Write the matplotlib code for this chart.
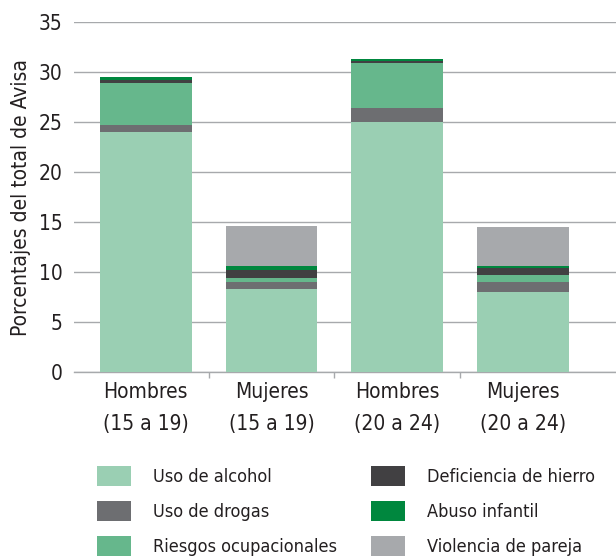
import numpy as np
import matplotlib
matplotlib.use("Agg")
import matplotlib.pyplot as plt
from matplotlib.patches import Patch

plt.rcParams["font.family"] = ["DejaVu Sans"]
plt.rcParams["font.stretch"] = "condensed"

# datos (porcentajes del total de AVISA)
grupos = ["Hombres\n(15 a 19)", "Mujeres\n(15 a 19)", "Hombres\n(20 a 24)", "Mujeres\n(20 a 24)"]
factores = ["Uso de alcohol", "Uso de drogas", "Riesgos ocupacionales",
            "Deficiencia de hierro", "Abuso infantil", "Violencia de pareja"]
alcohol = [24.0, 8.3, 25.0, 8.0]
drogas = [0.7, 0.7, 1.4, 1.0]
riesgos = [4.2, 0.4, 4.5, 0.7]
hierro = [0.3, 0.8, 0.2, 0.7]
abuso = [0.3, 0.4, 0.2, 0.2]
violencia = [0.0, 4.0, 0.0, 3.9]

series = [alcohol, drogas, riesgos, hierro, abuso, violencia]
colores = ["#9ACFB3", "#6D6E71", "#66B78C", "#414042", "#00873E", "#A7A9AC"]
texto = "#231F20"

fig = plt.figure(figsize=(6.16, 5.57), dpi=100)
ax = fig.add_axes([0.12, 0.332, 0.88, 0.628])

x = np.arange(len(grupos))
base = np.zeros(len(grupos))
for vals, col in zip(series, colores):
    ax.bar(x, vals, bottom=base, width=0.73, color=col, zorder=3, linewidth=0)
    base += np.array(vals)

ax.set_ylim(0, 35)
ax.set_xlim(-0.571, 3.74)
ax.set_yticks(range(0, 36, 5))
ax.yaxis.grid(True, color="#A7A9AC", linewidth=1.0, zorder=0)
ax.tick_params(axis="y", length=0, labelsize=15, colors=texto, pad=8)

ax.set_xticks(x)
ax.set_xticklabels(grupos, fontsize=15, color=texto, linespacing=1.75)
ax.set_xticks([0.5, 1.5, 2.5], minor=True)
ax.tick_params(axis="x", which="major", length=0, pad=7)
ax.tick_params(axis="x", which="minor", length=4, color="#A7A9AC", width=1.0)

for s in ["top", "right", "left"]:
    ax.spines[s].set_visible(False)
ax.spines["bottom"].set_color("#A7A9AC")
ax.spines["bottom"].set_linewidth(1.0)

ax.set_ylabel("Porcentajes del total de Avisa", fontsize=15, color=texto, labelpad=6)

handles = [Patch(facecolor=c, edgecolor="none") for c in colores]
# dos columnas de leyenda: alcohol, drogas, riesgos | hierro, abuso, violencia
opts = dict(loc="upper left", frameon=False, fontsize=13, handlelength=1.89,
            handleheight=1.33, handletextpad=1.22, labelspacing=0.83,
            borderpad=0, borderaxespad=0, labelcolor=texto)
fig.legend(handles[:3], factores[:3], bbox_to_anchor=(97 / 616, 1 - 466 / 557), **opts)
fig.legend(handles[3:], factores[3:], bbox_to_anchor=(371 / 616, 1 - 466 / 557), **opts)

fig.savefig("out.png", dpi=100)
